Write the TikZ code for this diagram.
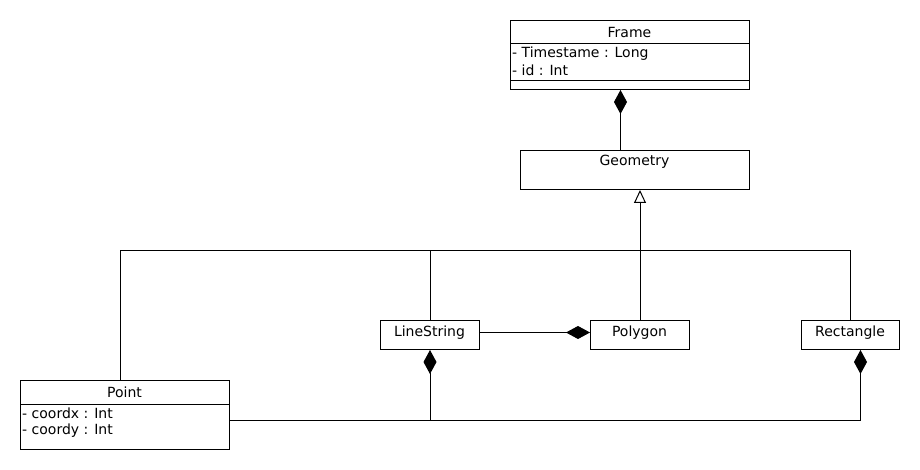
\documentclass[tikz,border=0pt]{standalone}
\usepackage{fontspec}
\setmainfont{DejaVu Sans}
\usetikzlibrary{arrows.meta}
\begin{document}
\begin{tikzpicture}[x=1pt,y=-1pt,
  box/.style={draw,line width=1pt,inner sep=0pt,anchor=north west},
  lbl/.style={inner sep=0pt,font=\fontsize{14}{16}\selectfont},
  conn/.style={line width=1pt},
  compo/.style={conn,-{Diamond[length=24pt,width=13pt]}},
  gen/.style={conn,-{Triangle[open,length=13pt,width=12pt,line width=1pt]}}]
\useasboundingbox[fill=white] (0,0) rectangle (920,470);
% coordinates for connector positions
\coordinate (xA) at (620.5,0);
\coordinate (xP) at (120.5,0);
\coordinate (xR) at (860.5,0);
\coordinate (yB) at (0,420.5);
\coordinate (bus) at (640,250.5);
% Frame
\node[box,minimum width=239pt,minimum height=69pt] (Frame) at (510,20) {};
\draw[line width=1pt] (510,44) -- (749,44);
\draw[line width=1pt] (510,81) -- (749,81);
\node[lbl] (FrameName) at (629.5,32) {Frame};
\node[lbl,anchor=west] (FrameA1) at (512,53.5) {- Timestame : Long};
\node[lbl,anchor=west] (FrameA2) at (512,70) {- id : Int};
% Geometry
\node[box,minimum width=229pt,minimum height=39pt] (Geometry) at (520,150) {};
\node[lbl] (GeomName) at (634.5,162) {Geometry};
% LineString, Polygon, Rectangle
\node[box,minimum width=99pt,minimum height=29pt] (LineString) at (380,320) {};
\node[lbl] (LSName) at (429.5,333) {LineString};
\node[box,minimum width=99pt,minimum height=29pt] (Polygon) at (590,320) {};
\node[lbl] (PolyName) at (639.5,333) {Polygon};
\node[box,minimum width=98pt,minimum height=29pt] (Rectangle) at (801,320) {};
\node[lbl] (RectName) at (850,333) {Rectangle};
% Point
\node[box,minimum width=209pt,minimum height=69pt] (Point) at (20,380) {};
\draw[line width=1pt] (20,404) -- (229,404);
\node[lbl] (PointName) at (124.5,392.5) {Point};
\node[lbl,anchor=west] (PointA1) at (22,413.5) {- coordx : Int};
\node[lbl,anchor=west] (PointA2) at (22,430.5) {- coordy : Int};
% connectors
\draw[compo] (Geometry.north -| xA) -- (Frame.south -| xA);
\draw[gen] (Polygon.north) -- (Geometry.south -| Polygon.north);
\draw[conn] (Point.north -| xP) |- (Rectangle.north |- bus) -- (Rectangle.north);
\draw[conn] (LineString.north) -- (LineString.north |- bus);
\draw[compo] (LineString.east |- 0,332.5) -- (Polygon.west |- 0,332.5);
\draw[compo] (Point.east |- yB) -| (Rectangle.south -| xR);
\draw[compo] (LineString.south |- yB) -- (LineString.south);
\end{tikzpicture}
\end{document}
